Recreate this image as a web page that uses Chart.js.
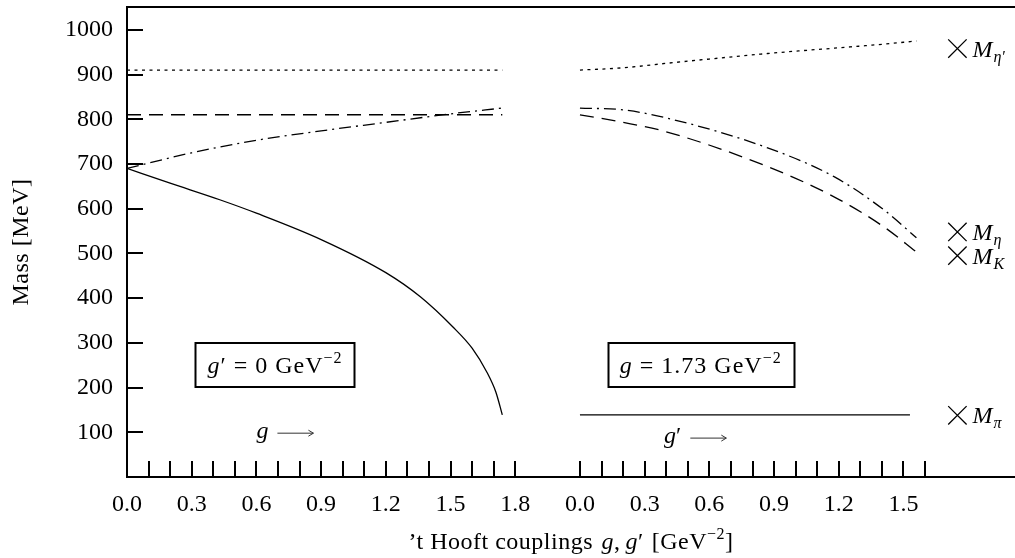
<!DOCTYPE html>
<html>
<head>
<meta charset="utf-8">
<script src="https://cdn.jsdelivr.net/npm/chart.js@4.4.1/dist/chart.umd.min.js"></script>
<style>
    html, body { margin: 0; padding: 0; background: #fff; }
    #wrap { width: 1015px; height: 558px; }
</style>
</head>
<body>
<div id="wrap"><canvas id="massChart" width="1015" height="558"></canvas></div>
<script>
// left panel: g' = 0, g varies
const gLeft = [0, 0.2, 0.43, 0.6, 0.9, 1.2, 1.36, 1.51, 1.6, 1.67, 1.71, 1.74];
const pionLeft = [690, 657, 620, 590, 531, 457, 403, 336, 288, 233, 190, 139];
const gLeftCoarse = [0, 0.3, 0.6, 0.9, 1.2, 1.5, 1.74];
const etaLeft = [690, 725, 753, 774, 793, 812, 825];
const kaonLeft = [810, 810, 810, 810, 810, 810, 810];
const etaPrimeLeft = [910, 910, 910, 910, 910, 910, 910];

// right panel: g = 1.73, g' varies
const gpRight = [0, 0.2, 0.4, 0.87, 1.18, 1.41, 1.56];
const etaRight = [825, 821, 803, 736, 671, 597, 535];
const kaonRight = [810, 793, 772, 694, 626, 559, 503];
const etaPrimeRight = [910, 915, 925, 947, 959, 968, 975];
const gpPion = [0, 1.53];
const pionRight = [139, 139];

// experimental masses (crosses on the right)
const expMasses = [958, 548, 495, 138];
const expNames = ['η′', 'η', 'K', 'π'];
const expGp = 1.75;

// axis ticks
const panelGap = 2.1; // right panel starts at 1.8 + 0.3 on the shared axis
const xLabelG = [0.0, 0.3, 0.6, 0.9, 1.2, 1.5, 1.8];
const xLabelGp = [0.0, 0.3, 0.6, 0.9, 1.2, 1.5];
const xMinorG = [0.1, 0.2, 0.3, 0.4, 0.5, 0.6, 0.7, 0.8, 0.9, 1.0, 1.1, 1.2, 1.3, 1.4, 1.5, 1.6, 1.7, 1.8];
const xMinorGp = [0.0, 0.1, 0.2, 0.3, 0.4, 0.5, 0.6, 0.7, 0.8, 0.9, 1.0, 1.1, 1.2, 1.3, 1.4, 1.5, 1.6];
const yTickValues = [100, 200, 300, 400, 500, 600, 700, 800, 900, 1000];

const SERIF = '"Liberation Serif", "DejaVu Serif", serif';
const FS = 24;

function pts(xs, ys, off) {
    return xs.map((x, i) => ({ x: x + off, y: ys[i] }));
}

function curve(data, dash) {
    return {
        data: data,
        borderColor: '#000',
        borderWidth: 1.3,
        borderDash: dash,
        pointRadius: 0,
        fill: false,
        cubicInterpolationMode: 'monotone'
    };
}

const xLabelPos = xLabelG.concat(xLabelGp.map(v => v + panelGap));
const xLabelText = xLabelG.concat(xLabelGp).map(v => v.toFixed(1));

function fontOf(s) {
    return (s.it ? 'italic ' : '') + (s.size || FS) + 'px ' + SERIF;
}

// draws a row of text pieces, each with its own style / baseline shift / extra gap
function drawRich(ctx, segs, x, y, align) {
    let total = 0;
    segs.forEach(s => {
        ctx.font = fontOf(s);
        s.w = ctx.measureText(s.t).width + (s.gap || 0);
        total += s.w;
    });
    let cx = align === 'center' ? x - total / 2 : x;
    ctx.textAlign = 'left';
    ctx.textBaseline = 'alphabetic';
    segs.forEach(s => {
        ctx.font = fontOf(s);
        ctx.fillText(s.t, cx, y + (s.dy || 0));
        cx += s.w;
    });
    return total;
}

function arrow(ctx, x1, x2, y) {
    ctx.save();
    ctx.strokeStyle = '#333';
    ctx.lineWidth = 1;
    ctx.beginPath();
    ctx.moveTo(x1, y);
    ctx.lineTo(x2, y);
    ctx.moveTo(x2 - 5, y - 3);
    ctx.lineTo(x2, y);
    ctx.lineTo(x2 - 5, y + 3);
    ctx.stroke();
    ctx.restore();
}

const decor = {
    id: 'decor',
    afterDatasetsDraw(chart) {
        const ctx = chart.ctx;
        const area = chart.chartArea;
        const xs = chart.scales.x;
        const ys = chart.scales.y;
        ctx.save();
        ctx.fillStyle = '#000';
        ctx.strokeStyle = '#000';

        // top frame line
        ctx.lineWidth = 2;
        ctx.beginPath();
        ctx.moveTo(area.left, area.top);
        ctx.lineTo(area.right, area.top);
        ctx.stroke();

        // inward ticks
        ctx.beginPath();
        xMinorG.concat(xMinorGp.map(v => v + panelGap)).forEach(v => {
            const px = Math.round(xs.getPixelForValue(v));
            ctx.moveTo(px, area.bottom);
            ctx.lineTo(px, area.bottom - 16);
        });
        yTickValues.forEach(v => {
            const py = Math.round(ys.getPixelForValue(v));
            ctx.moveTo(area.left, py);
            ctx.lineTo(area.left + 16, py);
        });
        ctx.stroke();

        // boxed panel captions
        const sup = { t: '−2', size: 16, dy: -10 };
        const boxes = [
            { x: 0.686, y: 250, segs: [{ t: 'g', it: true }, { t: '′', gap: 7 }, { t: '=', gap: 7 }, { t: '0', gap: 7 }, { t: 'GeV' }, sup] },
            { x: 0.56 + panelGap, y: 250, segs: [{ t: 'g', it: true, gap: 7 }, { t: '=', gap: 7 }, { t: '1.73', gap: 7 }, { t: 'GeV' }, sup] }
        ];
        ctx.letterSpacing = '1px';
        boxes.forEach(b => {
            const cx = xs.getPixelForValue(b.x);
            const cy = ys.getPixelForValue(b.y);
            const w = drawRich(ctx, b.segs, cx, cy + 8, 'center');
            ctx.lineWidth = 2;
            ctx.strokeRect(Math.round(cx - w / 2 - 12) + 0.5, Math.round(cy - 22), Math.round(w + 24), 44);
        });
        ctx.letterSpacing = '0px';

        // direction hints
        let px = xs.getPixelForValue(0.6);
        let py = ys.getPixelForValue(98);
        let w = drawRich(ctx, [{ t: 'g', it: true }], px, py + 5, 'left');
        arrow(ctx, px + w + 9, px + w + 45, py);
        px = xs.getPixelForValue(0.39 + panelGap);
        py = ys.getPixelForValue(87);
        w = drawRich(ctx, [{ t: 'g', it: true }, { t: '′' }], px, py + 5, 'left');
        arrow(ctx, px + w + 9, px + w + 45, py);

        // experimental mass labels
        expMasses.forEach((m, i) => {
            const lx = xs.getPixelForValue(expGp + panelGap) + 15;
            const ly = ys.getPixelForValue(m);
            drawRich(ctx, [{ t: 'M', it: true, gap: 1 }, { t: expNames[i], it: true, size: 16, dy: 5 }], lx, ly + 8, 'left');
        });

        // axis titles
        ctx.letterSpacing = '0.5px';
        drawRich(ctx, [
            { t: '\u2019t Hooft couplings ', gap: 2 }, { t: 'g', it: true }, { t: ',', gap: 5 }, { t: 'g', it: true },
            { t: '′', gap: 8 }, { t: '[GeV' }, { t: '−2', size: 16, dy: -10 }, { t: ']' }
        ], (area.left + area.right) / 2, 549, 'center');

        ctx.translate(22, (area.top + area.bottom) / 2);
        ctx.rotate(-Math.PI / 2);
        ctx.font = FS + 'px ' + SERIF;
        ctx.textAlign = 'center';
        ctx.textBaseline = 'middle';
        ctx.fillText('Mass [MeV]', 0, 0);
        ctx.restore();
    }
};

const ctx = document.getElementById('massChart').getContext('2d');
new Chart(ctx, {
    type: 'line',
    data: {
        datasets: [
            curve(pts(gLeft, pionLeft, 0), []),
            curve(pts(gLeftCoarse, etaLeft, 0), [12, 5, 2, 5]),
            curve(pts(gLeftCoarse, kaonLeft, 0), [14, 8]),
            curve(pts(gLeftCoarse, etaPrimeLeft, 0), [3, 4.5]),
            curve(pts(gpPion, pionRight, panelGap), []),
            curve(pts(gpRight, etaRight, panelGap), [12, 5, 2, 5]),
            curve(pts(gpRight, kaonRight, panelGap), [14, 8]),
            curve(pts(gpRight, etaPrimeRight, panelGap), [3, 4.5]),
            {
                type: 'scatter',
                data: expMasses.map(m => ({ x: expGp + panelGap, y: m })),
                showLine: false,
                pointStyle: 'crossRot',
                pointRadius: 13,
                borderColor: '#000',
                borderWidth: 1.3
            }
        ]
    },
    options: {
        responsive: false,
        animation: false,
        layout: { autoPadding: false, padding: { top: 7, right: 0, bottom: 0, left: 0 } },
        plugins: {
            legend: { display: false },
            tooltip: { enabled: false }
        },
        scales: {
            x: {
                type: 'linear',
                min: 0,
                max: 4.117,
                grid: { display: false, drawTicks: false },
                border: { display: true, color: '#000', width: 2 },
                afterBuildTicks: scale => { scale.ticks = xLabelPos.map(v => ({ value: v })); },
                afterFit: scale => {
                    scale.height = 81;
                    scale.paddingLeft = 0;
                    scale.paddingRight = 0;
                },
                ticks: {
                    autoSkip: false,
                    maxRotation: 0,
                    padding: 13,
                    color: '#000',
                    font: { family: SERIF, size: FS },
                    callback: (value, index) => xLabelText[index]
                }
            },
            y: {
                type: 'linear',
                min: 0,
                max: 1051,
                grid: { display: false, drawTicks: false },
                border: { display: true, color: '#000', width: 2 },
                afterBuildTicks: scale => { scale.ticks = yTickValues.map(v => ({ value: v })); },
                afterFit: scale => {
                    scale.width = 127;
                    scale.paddingTop = 0;
                    scale.paddingBottom = 0;
                },
                ticks: {
                    autoSkip: false,
                    padding: 14,
                    color: '#000',
                    font: { family: SERIF, size: FS },
                    callback: value => String(value)
                }
            }
        }
    },
    plugins: [decor]
});
</script>
</body>
</html>
